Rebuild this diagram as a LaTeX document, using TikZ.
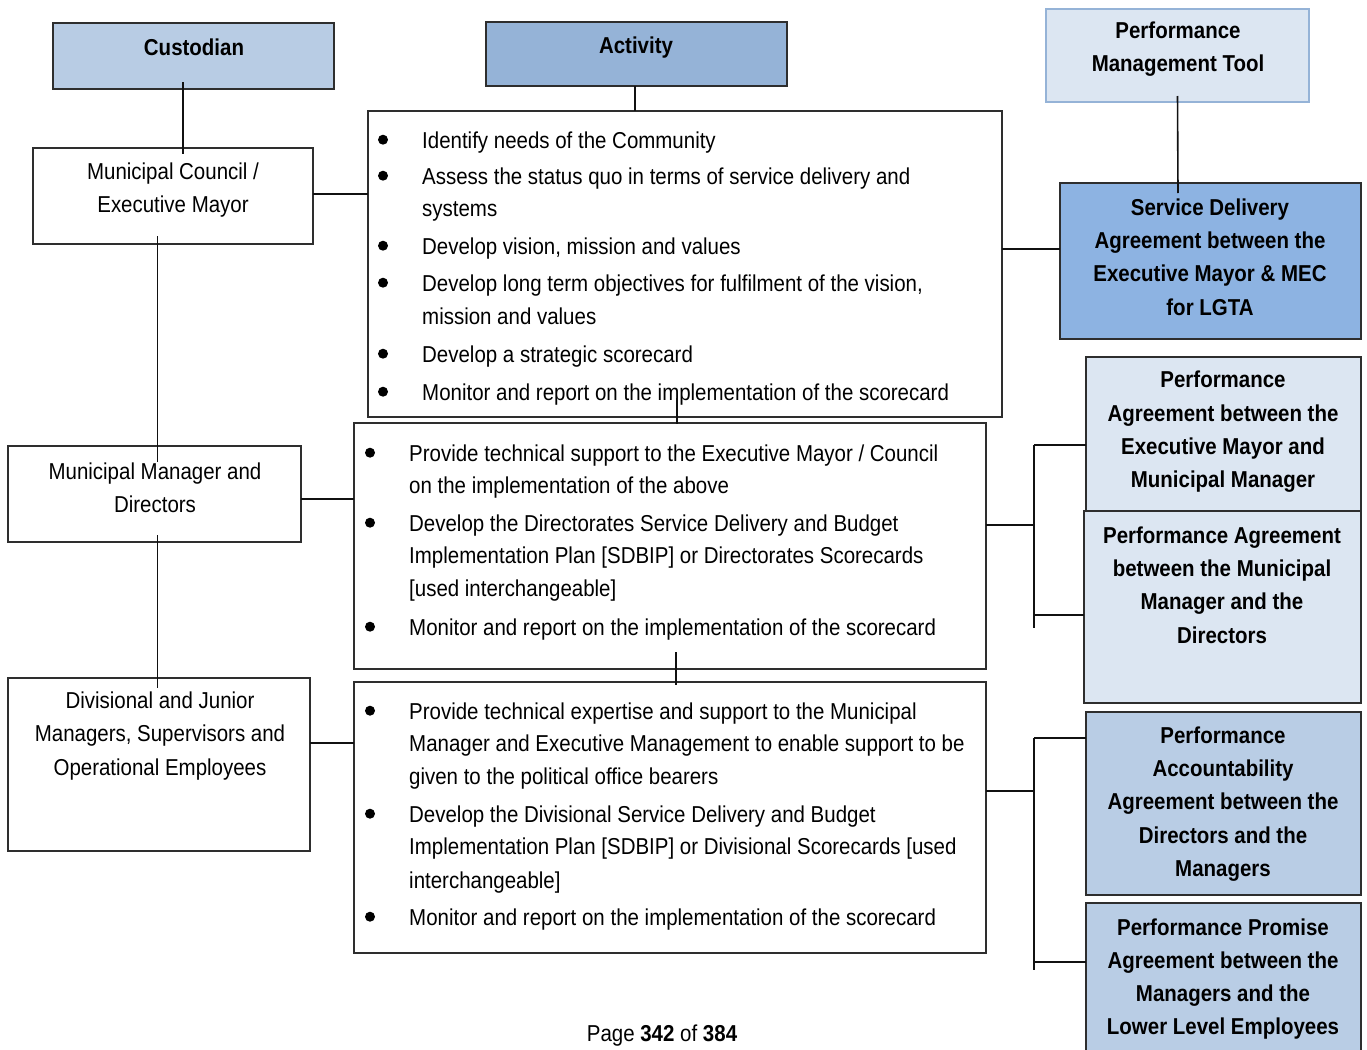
\documentclass[tikz,border=0pt]{standalone}
\usepackage{fontspec}
\setmainfont{Liberation Sans}[FakeStretch=0.89]
\usetikzlibrary{calc}

\definecolor{linec}{HTML}{111111}
\definecolor{custc}{HTML}{B8CCE4}
\definecolor{actc}{HTML}{95B3D7}
\definecolor{pmtc}{HTML}{DCE6F2}
\definecolor{pmtb}{HTML}{95B3D7}
\definecolor{sdac}{HTML}{8DB3E2}
\definecolor{pac}{HTML}{DCE6F2}
\definecolor{paac}{HTML}{B9CDE5}
\definecolor{boxb}{HTML}{2E2E2E}

\begin{document}
\begin{tikzpicture}[x=1pt,y=-1pt,
  box/.style={draw=boxb, line width=1.4pt, inner sep=0pt, outer sep=0pt, anchor=north west},
  wire/.style={draw=linec, line width=1.6pt},
  lbl/.style={align=center, inner sep=0pt, font=\fontsize{23}{33.3}\selectfont},
  blbl/.style={lbl, font=\fontsize{23}{33.3}\selectfont\bfseries},
  itm/.style={anchor=base west, inner sep=0pt, font=\fontsize{23}{28}\selectfont},
  dot/.style={fill=black}]
\clip (0,0) rectangle (1367,1049);
\fill[white] (0,0) rectangle (1367,1049);

% header boxes
\node[box, fill=custc, minimum width=281, minimum height=66] (cust) at (53,23) {};
\node[box, fill=actc, minimum width=301, minimum height=64] (act) at (486,22) {};
\node[box, fill=pmtc, draw=pmtb, minimum width=263, minimum height=93] (pmt) at (1046,9) {};
\node[blbl] (custT) at (194,47) {Custodian};
\node[blbl] (actT) at (636,48) {Activity};
\node[blbl] (pmtT) at (1178,49) {Performance\\Management Tool};

% custodian column
\node[box, minimum width=280, minimum height=96] (council) at (33,148) {};
\node[lbl] (councilT) at (173,190) {Municipal Council /\\Executive Mayor};
\node[box, minimum width=293, minimum height=96] (mm) at (8,446) {};
\node[lbl] (mmT) at (155,488) {Municipal Manager and\\Directors};
\node[box, minimum width=302, minimum height=173] (div) at (8,678) {};
\node[lbl] (divT) at (160,736) {Divisional and Junior\\Managers, Supervisors and\\Operational Employees};

% activity boxes
\node[box, minimum width=634, minimum height=306] (box1) at (368,111) {};
\node[box, minimum width=632, minimum height=246] (box2) at (354,423) {};
\node[box, minimum width=632, minimum height=271] (box3) at (354,682) {};

\foreach \t/\y [count=\i] in {
  {Identify needs of the Community}/148,
  {Assess the status quo in terms of service delivery and}/184,
  {systems}/216,
  {Develop vision, mission and values}/254,
  {Develop long term objectives for fulfilment of the vision,}/291,
  {mission and values}/324,
  {Develop a strategic scorecard}/362,
  {Monitor and report on the implementation of the scorecard}/400}
  \node[itm] (bxa\i) at (422,\y) {\t};
\foreach \y in {148,184,254,291,362,400}
  \fill[dot] (383,\y-8.3) circle (5);

\foreach \t/\y [count=\i] in {
  {Provide technical support to the Executive Mayor / Council}/461,
  {on the implementation of the above}/493,
  {Develop the Directorates Service Delivery and Budget}/531,
  {Implementation Plan [SDBIP] or Directorates Scorecards}/563,
  {[used interchangeable]}/596,
  {Monitor and report on the implementation of the scorecard}/635}
  \node[itm] (bxb\i) at (409,\y) {\t};
\foreach \y in {461,531,635}
  \fill[dot] (370,\y-8.3) circle (5);

\foreach \t/\y [count=\i] in {
  {Provide technical expertise and support to the Municipal}/719,
  {Manager and Executive Management to enable support to be}/751,
  {given to the political office bearers}/784,
  {Develop the Divisional Service Delivery and Budget}/822,
  {Implementation Plan [SDBIP] or Divisional Scorecards [used}/854,
  {interchangeable]}/888,
  {Monitor and report on the implementation of the scorecard}/925}
  \node[itm] (bxc\i) at (409,\y) {\t};
\foreach \y in {719,822,925}
  \fill[dot] (370,\y-8.3) circle (5);

% agreement boxes
\node[box, fill=sdac, minimum width=301, minimum height=156] (sda) at (1060,183) {};
\node[blbl] (sdaT) at (1210,257) {Service Delivery\\Agreement between the\\Executive Mayor \& MEC\\for LGTA};
\node[box, fill=pac, minimum width=275, minimum height=155] (pa1) at (1086,357) {};
\node[box, fill=pac, minimum width=277, minimum height=192] (pa2) at (1084,511) {};
\node[blbl] (pa1T) at (1223,432) {Performance\\Agreement between the\\Executive Mayor and\\Municipal Manager};
\node[blbl] (pa2T) at (1222,585) {Performance Agreement\\between the Municipal\\Manager and the\\Directors};
\node[box, fill=paac, minimum width=275, minimum height=183] (paa) at (1086,712) {};
\node[blbl] (paaT) at (1223,804) {Performance\\Accountability\\Agreement between the\\Directors and the\\Managers};
\node[box, fill=paac, minimum width=275, minimum height=160] (ppa) at (1086,903) {};
\node[blbl] (ppaT) at (1223,979) {Performance Promise\\Agreement between the\\Managers and the\\Lower Level Employees};

% footer
\node[lbl] (foot) at (662,1036) {Page \textbf{342} of \textbf{384}};

% vertical links in the left column
\draw[wire] ([xshift=-10.5pt,yshift=7pt]cust.south) -- ([xshift=10pt,yshift=-6pt]council.north);
\draw[wire] ([xshift=-15.5pt,yshift=8pt]council.south) -- ([xshift=3pt,yshift=-16pt]mm.north);
\draw[wire] ([xshift=3pt,yshift=7pt]mm.south) -- ([xshift=-1.5pt,yshift=-10pt]div.north);

% links in the activity column
\draw[wire] ([xshift=-1.5pt]act.south) -- ([xshift=-50pt]box1.north);
\draw[wire] ([xshift=-8pt,yshift=19pt]box1.south) -- ([xshift=7pt,yshift=-1pt]box2.north);
\draw[wire] ([xshift=6pt,yshift=17pt]box2.south) -- ([xshift=6pt,yshift=-3pt]box3.north);

% horizontal links
\draw[wire] ([yshift=2pt]council.east) -- ([yshift=70pt]box1.west);
\draw[wire] ([yshift=-5pt]mm.east) -- ([yshift=47pt]box2.west);
\draw[wire] ([yshift=21.5pt]div.east) -- ([yshift=74.5pt]box3.west);
\draw[wire] ([yshift=15pt]box1.east) -- ([yshift=12pt]sda.west);
\draw[wire] ([yshift=6pt]pmt.south) -- ([xshift=-32.5pt,yshift=-10pt]sda.north);

% branching links to the agreements
\coordinate (ja) at (1034,525);
\coordinate (jaTop) at (1034,445);
\coordinate (jaLow) at (1034,615);
\coordinate (jaEnd) at (1034,628);
\draw[wire] ([yshift=21pt]box2.east) -- (ja);
\draw[wire] (jaTop) -- (jaEnd);
\draw[wire] (jaTop) -- (jaTop -| pa1.west);
\draw[wire] (jaLow) -- (jaLow -| pa2.west);

\coordinate (jb) at (1034,791);
\coordinate (jbTop) at (1034,738);
\coordinate (jbLow) at (1034,962);
\coordinate (jbEnd) at (1034,970);
\draw[wire] ([yshift=26.5pt]box3.east) -- (jb);
\draw[wire] (jbTop) -- (jbEnd);
\draw[wire] (jbTop) -- (jbTop -| paa.west);
\draw[wire] (jbLow) -- (jbLow -| ppa.west);
\end{tikzpicture}
\end{document}
